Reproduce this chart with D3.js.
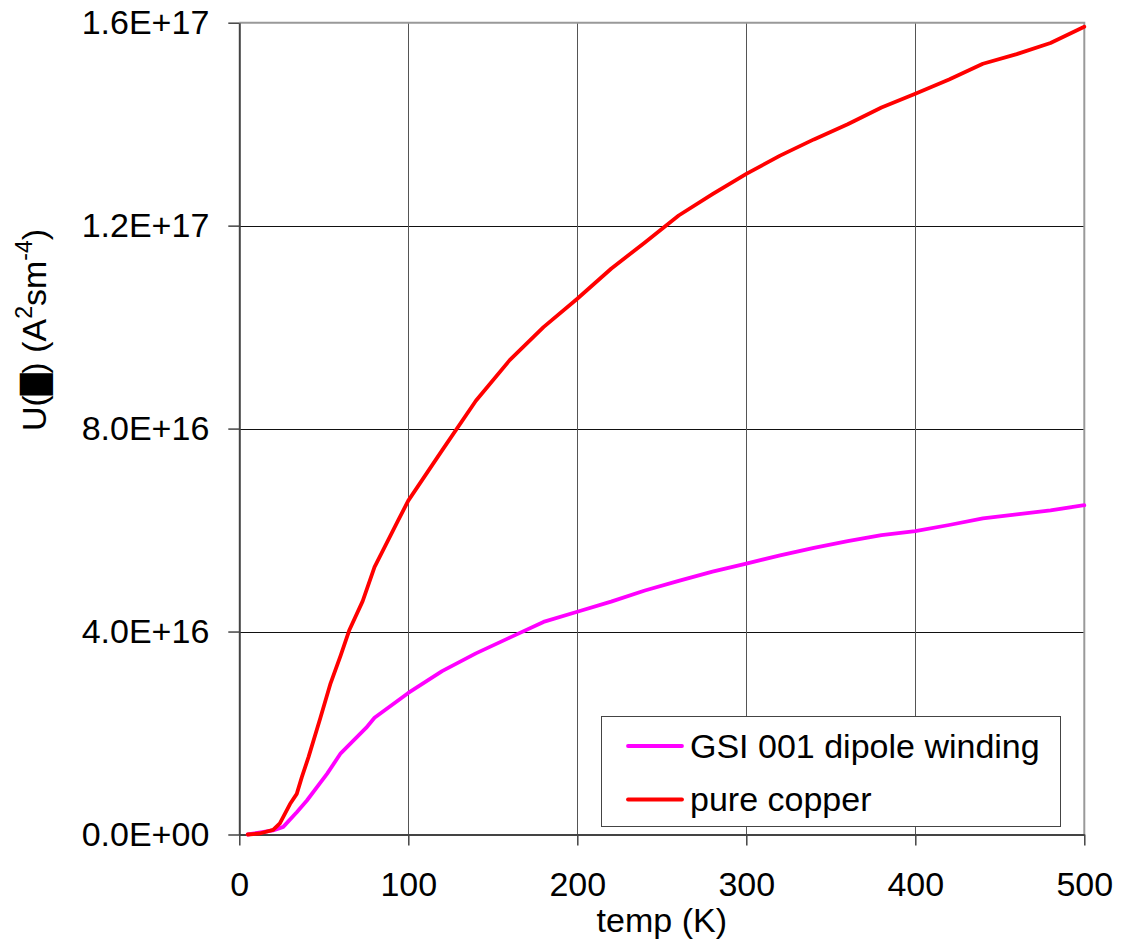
<!DOCTYPE html>
<html>
<head>
<meta charset="utf-8">
<script src="https://cdn.jsdelivr.net/npm/d3@7"></script>
<style>
  body { margin: 0; background: #fff; }
  svg { font-family: "Liberation Sans", Arial, sans-serif; }
</style>
</head>
<body>
<svg id="chart" width="1126" height="943"></svg>
<script>
// temperature (K) and U values for each series
var tempCopper = [5, 12, 20, 24, 30, 34, 37, 41, 48, 54, 60, 65, 73, 80, 94, 100, 120, 140, 160, 180, 200,
    220, 240, 260, 280, 300, 320, 340, 360, 380, 400, 420, 440, 460, 480, 500];
var copper = [0, 0.02e16, 0.09e16, 0.22e16, 0.6e16, 0.8e16, 1.13e16, 1.53e16, 2.3e16, 2.98e16, 3.53e16,
    4.02e16, 4.6e16, 5.27e16, 6.19e16, 6.58e16, 7.57e16, 8.55e16, 9.35e16, 10.0e16, 10.56e16,
    11.15e16, 11.67e16, 12.2e16, 12.62e16, 13.02e16, 13.38e16, 13.7e16, 14.0e16, 14.33e16, 14.6e16,
    14.88e16, 15.19e16, 15.38e16, 15.6e16, 15.92e16];

var tempGsi = [5, 20, 26, 34, 40, 52, 60, 75, 80, 100, 120, 140, 160, 180, 200,
    220, 240, 260, 280, 300, 320, 340, 360, 380, 400, 420, 440, 460, 480, 500];
var gsi = [0, 0.08e16, 0.15e16, 0.44e16, 0.67e16, 1.2e16, 1.6e16, 2.1e16, 2.3e16, 2.79e16, 3.22e16,
    3.57e16, 3.88e16, 4.19e16, 4.39e16, 4.59e16, 4.81e16, 5.0e16, 5.18e16, 5.34e16, 5.5e16,
    5.65e16, 5.78e16, 5.9e16, 5.98e16, 6.1e16, 6.23e16, 6.31e16, 6.39e16, 6.49e16];

var xTicks = [0, 100, 200, 300, 400, 500];
var yTicks = [0, 4e16, 8e16, 1.2e17, 1.6e17];
var seriesNames = ["GSI 001 dipole winding", "pure copper"];
var seriesColors = ["#ff00ff", "#ff0000"];

var svg = d3.select("#chart");
var fontSize = 34;
// plot box in pixels (note: "top" is reserved on window)
var plotLeft = 239.3, plotRight = 1084.3, plotTop = 22.7, plotBottom = 834.5;

var x = d3.scaleLinear().domain([0, 500]).range([plotLeft, plotRight]);
var y = d3.scaleLinear().domain([0, 1.6e17]).range([plotBottom, plotTop]);

// "1.6E+17" style labels
function sci(d) {
    if (d === 0) return "0.0E+00";
    var e = Math.floor(Math.log10(d) + 1e-9);
    var m = d / Math.pow(10, e);
    return m.toFixed(1) + "E+" + (e < 10 ? "0" + e : e);
}

// gridlines
svg.append("g")
    .selectAll("line")
    .data(yTicks.slice(1, -1))
    .join("line")
        .attr("x1", plotLeft).attr("x2", plotRight)
        .attr("y1", d => Math.round(y(d)) + 0.5).attr("y2", d => Math.round(y(d)) + 0.5)
        .attr("stroke", "#111").attr("stroke-width", 1);

svg.append("g")
    .selectAll("line")
    .data(xTicks.slice(1, -1))
    .join("line")
        .attr("x1", d => Math.round(x(d)) + 0.5).attr("x2", d => Math.round(x(d)) + 0.5)
        .attr("y1", plotTop).attr("y2", plotBottom)
        .attr("stroke", "#555").attr("stroke-width", 1);

// top / right frame
svg.append("path")
    .attr("d", `M${plotLeft},${plotTop}H${plotRight}V${plotBottom}`)
    .attr("fill", "none")
    .attr("stroke", "#999")
    .attr("stroke-width", 2);

// axes
var xAxis = svg.append("g")
    .attr("transform", `translate(0,${plotBottom})`)
    .call(d3.axisBottom(x).tickValues(xTicks).tickSize(11).tickPadding(26).tickSizeOuter(0));
var yAxis = svg.append("g")
    .attr("transform", `translate(${plotLeft},0)`)
    .call(d3.axisLeft(y).tickValues(yTicks).tickSize(11).tickPadding(19).tickFormat(sci).tickSizeOuter(0));

[xAxis, yAxis].forEach(a => {
    a.select(".domain").attr("stroke", "#444").attr("stroke-width", 2);
    a.selectAll(".tick line").attr("stroke", "#444").attr("stroke-width", 1.5);
    a.selectAll(".tick text")
        .attr("font-family", "Liberation Sans, Arial, sans-serif")
        .attr("font-size", fontSize)
        .attr("fill", "#000");
});
xAxis.selectAll(".tick text").attr("dy", "0.71em");

// axis titles
svg.append("text")
    .attr("x", (plotLeft + plotRight) / 2)
    .attr("y", 932)
    .attr("text-anchor", "middle")
    .attr("font-size", fontSize)
    .text("temp (K)");

var yTitle = svg.append("text")
    .attr("transform", "translate(46,330) rotate(-90)")
    .attr("text-anchor", "middle")
    .attr("font-size", fontSize);
yTitle.append("tspan").text("U(");
yTitle.append("tspan").attr("font-family", "DejaVu Sans").attr("font-size", 28).text("\u2588");
yTitle.append("tspan").text(") (A");
yTitle.append("tspan").attr("font-size", 23).attr("dy", -14).text("2");
yTitle.append("tspan").attr("dy", 14).text("sm");
yTitle.append("tspan").attr("font-size", 23).attr("dy", -14).text("-4");
yTitle.append("tspan").attr("dy", 14).text(")");

// series lines
var line = d3.line()
    .x(d => x(d[0]))
    .y(d => y(d[1]));

var series = [
    d3.zip(tempGsi, gsi),
    d3.zip(tempCopper, copper)
];

svg.append("g")
    .attr("fill", "none")
    .attr("stroke-width", 3.8)
    .attr("stroke-linejoin", "round")
    .attr("stroke-linecap", "round")
    .selectAll("path")
    .data(series)
    .join("path")
        .attr("stroke", (d, i) => seriesColors[i])
        .attr("d", line);

// legend
var legend = svg.append("g").attr("transform", "translate(601,716)");
legend.append("rect")
    .attr("x", 0.5).attr("y", 0.5)
    .attr("width", 459).attr("height", 110)
    .attr("fill", "#fff")
    .attr("stroke", "#444")
    .attr("stroke-width", 1);

var item = legend.selectAll("g.item")
    .data(seriesNames)
    .join("g")
        .attr("class", "item")
        .attr("transform", (d, i) => `translate(0,${30 + i * 53.5})`);
item.append("line")
    .attr("x1", 27).attr("x2", 81)
    .attr("stroke", (d, i) => seriesColors[i])
    .attr("stroke-width", 3.8)
    .attr("stroke-linecap", "round");
item.append("text")
    .attr("x", 89)
    .attr("dy", "0.35em")
    .attr("font-size", fontSize)
    .text(d => d);
</script>
</body>
</html>
